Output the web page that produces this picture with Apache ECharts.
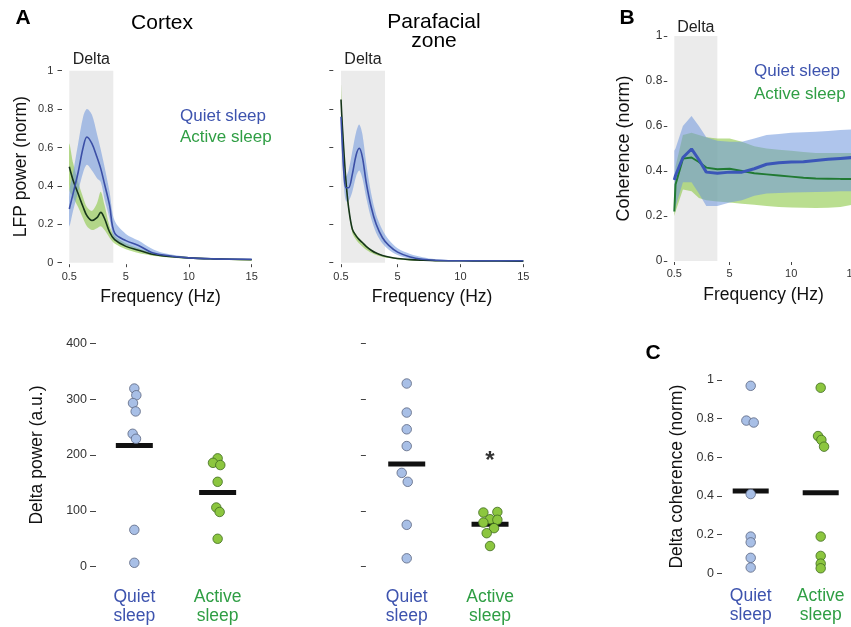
<!DOCTYPE html>
<html>
<head>
<meta charset="utf-8">
<script src="https://cdn.jsdelivr.net/npm/echarts@6/dist/echarts.min.js"></script>
<style>html,body{margin:0;padding:0;background:#fff}#chart{width:851px;height:627px}</style>
</head>
<body>
<div id="chart"></div>
<script>
var FONT = '"Liberation Sans", Arial, sans-serif';
var BLUE = '#3d53ae', GREEN = '#2f9e44';

var stateNames = ['Quiet sleep', 'Active sleep'];
var deltaBand = [0.5, 4];
var freqTicks = [0.5, 5, 10, 15];

// Cortex LFP spectra (mean and band edges)
var cortexFreq = [0.5, 0.8, 1.2, 1.6, 1.9, 2.3, 2.7, 3.0, 3.3, 3.7, 4.1, 5, 6, 7, 8, 10, 12, 15];
var cortexQuietMean = [0.28, 0.36, 0.47, 0.60, 0.655, 0.62, 0.55, 0.49, 0.41, 0.30, 0.155, 0.115, 0.09, 0.055, 0.04, 0.025, 0.02, 0.018];
var cortexQuietHi = [0.37, 0.47, 0.62, 0.76, 0.80, 0.77, 0.67, 0.59, 0.50, 0.37, 0.22, 0.15, 0.115, 0.075, 0.05, 0.03, 0.025, 0.02];
var cortexQuietLo = [0.19, 0.27, 0.37, 0.47, 0.51, 0.48, 0.44, 0.42, 0.33, 0.23, 0.12, 0.09, 0.07, 0.045, 0.033, 0.02, 0.016, 0.014];
var cortexActiveMean = [0.50, 0.43, 0.36, 0.29, 0.245, 0.22, 0.235, 0.262, 0.23, 0.16, 0.12, 0.085, 0.065, 0.045, 0.035, 0.025, 0.02, 0.015];
var cortexActiveHi = [0.62, 0.52, 0.42, 0.34, 0.29, 0.27, 0.31, 0.37, 0.30, 0.19, 0.14, 0.10, 0.075, 0.052, 0.04, 0.03, 0.022, 0.018];
var cortexActiveLo = [0.38, 0.34, 0.29, 0.23, 0.19, 0.17, 0.18, 0.19, 0.17, 0.13, 0.10, 0.07, 0.05, 0.038, 0.03, 0.02, 0.016, 0.012];

// Parafacial zone LFP spectra
var pfzFreq = [0.5, 0.6, 0.75, 0.9, 1.1, 1.4, 1.7, 1.95, 2.2, 2.5, 2.9, 3.3, 3.8, 4.3, 5, 6, 7, 8, 10, 12, 15];
var pfzQuietMean = [0.76, 0.62, 0.45, 0.39, 0.39, 0.46, 0.56, 0.596, 0.55, 0.42, 0.29, 0.20, 0.13, 0.09, 0.055, 0.03, 0.018, 0.013, 0.01, 0.01, 0.01];
var pfzQuietHi = [0.78, 0.66, 0.52, 0.45, 0.48, 0.58, 0.68, 0.72, 0.67, 0.52, 0.36, 0.25, 0.17, 0.12, 0.075, 0.045, 0.028, 0.018, 0.013, 0.012, 0.012];
var pfzQuietLo = [0.72, 0.55, 0.38, 0.32, 0.32, 0.37, 0.45, 0.48, 0.44, 0.34, 0.23, 0.155, 0.10, 0.068, 0.04, 0.02, 0.011, 0.008, 0.007, 0.007, 0.007];
var pfzActiveMean = [0.85, 0.72, 0.56, 0.42, 0.29, 0.175, 0.14, 0.12, 0.105, 0.085, 0.065, 0.05, 0.038, 0.03, 0.022, 0.016, 0.013, 0.011, 0.01, 0.009, 0.008];
var pfzActiveHi = [0.93, 0.76, 0.59, 0.44, 0.305, 0.185, 0.148, 0.127, 0.11, 0.09, 0.069, 0.053, 0.04, 0.032, 0.024, 0.018, 0.015, 0.013, 0.012, 0.011, 0.01];
var pfzActiveLo = [0.80, 0.68, 0.53, 0.40, 0.27, 0.155, 0.12, 0.10, 0.085, 0.068, 0.052, 0.04, 0.03, 0.024, 0.017, 0.012, 0.01, 0.008, 0.007, 0.006, 0.005];

// Cortex-PFZ coherence
var cohFreq = [0.5, 0.6, 1.2, 1.9, 2.5, 3.1, 4, 5, 6, 7, 8, 9, 10, 11, 12, 13, 14, 15];
var cohQuietMean = [0.36, 0.38, 0.46, 0.498, 0.45, 0.395, 0.39, 0.395, 0.395, 0.41, 0.43, 0.437, 0.44, 0.441, 0.447, 0.452, 0.456, 0.46];
var cohQuietHi = [0.49, 0.50, 0.60, 0.645, 0.60, 0.55, 0.535, 0.53, 0.53, 0.545, 0.56, 0.565, 0.57, 0.572, 0.575, 0.578, 0.582, 0.585];
var cohQuietLo = [0.22, 0.24, 0.35, 0.35, 0.30, 0.245, 0.245, 0.26, 0.27, 0.29, 0.30, 0.302, 0.305, 0.306, 0.307, 0.308, 0.31, 0.31];
var cohActiveMean = [0.22, 0.34, 0.455, 0.46, 0.44, 0.415, 0.408, 0.41, 0.40, 0.39, 0.385, 0.38, 0.375, 0.37, 0.367, 0.366, 0.365, 0.365];
var cohActiveHi = [0.30, 0.42, 0.56, 0.57, 0.56, 0.55, 0.545, 0.545, 0.53, 0.51, 0.50, 0.495, 0.49, 0.485, 0.48, 0.48, 0.48, 0.48];
var cohActiveLo = [0.20, 0.22, 0.318, 0.31, 0.28, 0.27, 0.265, 0.26, 0.255, 0.25, 0.245, 0.24, 0.238, 0.237, 0.236, 0.237, 0.24, 0.25];

// Per-animal delta values (jitter is the horizontal spread seen in the figure)
var cortexQuietPts = [319, 307, 293, 278, 238, 229, 66, 7];
var cortexQuietJit = [0, 0.024, -0.016, 0.016, -0.02, 0.02, 0, 0];
var cortexActivePts = [194, 186, 182, 152, 106, 98, 50];
var cortexActiveJit = [0, -0.056, 0.032, 0, -0.016, 0.024, 0];
var cortexMeans = [217, 133];

var pfzQuietPts = [328, 276, 246, 216, 168, 152, 75, 15];
var pfzQuietJit = [0, 0, 0, 0, -0.06, 0.012, 0, 0];
var pfzActivePts = [97, 98, 85, 79, 84, 69, 60, 37];
var pfzActiveJit = [-0.08, 0.088, 0, -0.08, 0.088, 0.048, -0.04, 0];
var pfzMeans = [184, 76];
var pfzStar = [1, 197];

var cohQuietPts = [0.97, 0.79, 0.78, 0.41, 0.19, 0.16, 0.08, 0.03];
var cohQuietJit = [0, -0.062, 0.043, 0, 0, 0, 0, 0];
var cohActivePts = [0.96, 0.71, 0.69, 0.655, 0.19, 0.09, 0.05, 0.026];
var cohActiveJit = [0, -0.038, 0.01, 0.048, 0, 0, 0, 0];
var cohMeans = [0.426, 0.417];

function pairs(xs, ys) { return xs.map(function (x, i) { return [x, ys[i]]; }); }

// SEM band drawn as one polygon: upper edge forward, lower edge back
function band(gi, xs, lo, hi, fill, smooth) {
  return {type: 'custom', xAxisIndex: gi, yAxisIndex: gi, silent: true, z: 2, clip: true,
    data: xs.map(function (x, i) { return [x, lo[i], hi[i]]; }),
    encode: {x: 0, y: [1, 2]},
    renderItem: function (params, api) {
      if (params.dataIndex !== 0) return null;
      var pts = [];
      for (var i = 0; i < xs.length; i++) pts.push(api.coord([xs[i], hi[i]]));
      for (var j = xs.length - 1; j >= 0; j--) pts.push(api.coord([xs[j], lo[j]]));
      return {type: 'polygon', shape: {points: pts, smooth: smooth}, style: {fill: fill}};
    }};
}

function meanLine(name, gi, xs, ys, color, width, smooth) {
  return {type: 'line', name: name, xAxisIndex: gi, yAxisIndex: gi, data: pairs(xs, ys),
    symbol: 'none', smooth: smooth, silent: true, lineStyle: {color: color, width: width}, z: 3};
}

function deltaShade(gi, dist) {
  return {type: 'line', xAxisIndex: gi, yAxisIndex: gi, data: [], silent: true, z: 1,
    markArea: {silent: true, itemStyle: {color: '#ebebeb'},
      label: {show: true, position: 'top', formatter: 'Delta', fontSize: 16, color: '#222', fontFamily: FONT, distance: dist},
      data: [[{xAxis: deltaBand[0], yAxis: 0}, {xAxis: deltaBand[1], yAxis: 1}]]}};
}

function dots(gi, cat, vals, jit, fill, border) {
  return {type: 'scatter', xAxisIndex: gi, yAxisIndex: gi, silent: true, z: 4,
    data: vals.map(function (v, i) { return [cat + jit[i], v]; }),
    symbolSize: 9.5, itemStyle: {color: fill, borderColor: border, borderWidth: 0.8, opacity: 1}};
}

function meanBars(gi, means, w) {
  return {type: 'scatter', xAxisIndex: gi, yAxisIndex: gi, silent: true, z: 3,
    data: means.map(function (m, i) { return [i, m]; }),
    symbol: 'rect', symbolSize: [w, 5], itemStyle: {color: '#111', opacity: 1}};
}

function freqAxis(gi, offset, margin) {
  return {type: 'value', gridIndex: gi, min: 0.5, max: 15, offset: offset,
    axisLine: {show: false, onZero: false}, splitLine: {show: false},
    axisTick: {show: true, customValues: freqTicks, length: 3, lineStyle: {color: '#444'}},
    axisLabel: {customValues: freqTicks, margin: margin, fontSize: 11, color: '#333', fontFamily: FONT},
    name: 'Frequency (Hz)', nameLocation: 'middle', nameGap: 24,
    nameTextStyle: {fontSize: 17.5, color: '#111', fontFamily: FONT}};
}

function catAxis(gi, min, max, margin) {
  return {type: 'value', gridIndex: gi, min: min, max: max,
    axisLine: {show: false, onZero: false}, axisTick: {show: false}, splitLine: {show: false},
    axisLabel: {customValues: [0, 1], margin: margin, lineHeight: 19,
      formatter: function (v) { return v === 0 ? '{q|Quiet}\n{q|sleep}' : '{a|Active}\n{a|sleep}'; },
      rich: {q: {color: BLUE, fontSize: 17.5, lineHeight: 19, fontFamily: FONT},
             a: {color: GREEN, fontSize: 17.5, lineHeight: 19, fontFamily: FONT}}}};
}

function valAxis(gi, max, step, offset, tickLen, margin, fontSize, showLabel, name, nameGap, nameSize) {
  return {type: 'value', gridIndex: gi, min: 0, max: max, interval: step, offset: offset,
    axisLine: {show: false, onZero: false}, splitLine: {show: false},
    axisTick: {show: true, length: tickLen, lineStyle: {color: '#444'}},
    axisLabel: {show: showLabel, margin: margin, fontSize: fontSize, color: '#333', fontFamily: FONT},
    name: name, nameLocation: 'middle', nameGap: nameGap,
    nameTextStyle: {fontSize: nameSize, color: '#111', fontFamily: FONT}};
}

function txt(s, x, y, font, color, align) {
  return {type: 'text', x: x, y: y, silent: true, z: 10,
    style: {text: s, font: font, fill: color || '#000', textAlign: align || 'center', align: align || 'center',
      textVerticalAlign: 'middle', verticalAlign: 'middle', lineHeight: 19}};
}

function gridAt(left, top, width, height) {
  return {left: left, top: top, width: width, height: height, outerBoundsMode: 'none', containLabel: false};
}

var blueFill = 'rgba(110,150,220,0.55)';
var greenFill = 'rgba(140,200,70,0.6)';

var series = [].concat(
  deltaShade(0, 3),
  band(0, cortexFreq, cortexActiveLo, cortexActiveHi, greenFill, 0.3),
  band(0, cortexFreq, cortexQuietLo, cortexQuietHi, blueFill, 0.3),
  meanLine(stateNames[1], 0, cortexFreq, cortexActiveMean, '#16351a', 1.6, 0.35),
  meanLine(stateNames[0], 0, cortexFreq, cortexQuietMean, '#3b4fa6', 1.6, 0.35),

  deltaShade(1, 3),
  band(1, pfzFreq, pfzActiveLo, pfzActiveHi, greenFill, 0.3),
  band(1, pfzFreq, pfzQuietLo, pfzQuietHi, blueFill, 0.3),
  meanLine(stateNames[1], 1, pfzFreq, pfzActiveMean, '#16351a', 1.6, 0.35),
  meanLine(stateNames[0], 1, pfzFreq, pfzQuietMean, '#3b4fa6', 1.6, 0.35),

  deltaShade(2, 0),
  band(2, cohFreq, cohActiveLo, cohActiveHi, greenFill, 0),
  band(2, cohFreq, cohQuietLo, cohQuietHi, blueFill, 0),
  meanLine(stateNames[1], 2, cohFreq, cohActiveMean, '#217a33', 2, false),
  meanLine(stateNames[0], 2, cohFreq, cohQuietMean, '#3b56b8', 3, false),

  meanBars(3, cortexMeans, 37),
  dots(3, 0, cortexQuietPts, cortexQuietJit, '#a8bfe6', '#5c6680'),
  dots(3, 1, cortexActivePts, cortexActiveJit, '#8cc63f', '#3f6b20'),

  meanBars(4, pfzMeans, 37),
  dots(4, 0, pfzQuietPts, pfzQuietJit, '#a8bfe6', '#5c6680'),
  dots(4, 1, pfzActivePts, pfzActiveJit, '#8cc63f', '#3f6b20'),
  {type: 'scatter', xAxisIndex: 4, yAxisIndex: 4, silent: true, data: [pfzStar], symbolSize: 1,
    itemStyle: {color: 'rgba(0,0,0,0)'},
    label: {show: true, position: 'inside', formatter: '*', fontSize: 24, fontWeight: 'bold', color: '#000', fontFamily: FONT, offset: [0, 5]}},

  meanBars(5, cohMeans, 36),
  dots(5, 0, cohQuietPts, cohQuietJit, '#a8bfe6', '#5c6680'),
  dots(5, 1, cohActivePts, cohActiveJit, '#8cc63f', '#3f6b20')
);

var chart = echarts.init(document.getElementById('chart'), null, {renderer: 'canvas', width: 851, height: 627});

chart.setOption({
  animation: false,
  backgroundColor: '#fff',
  textStyle: {fontFamily: FONT},
  grid: [
    gridAt(69.3, 70.7, 182.4, 192),
    gridAt(341, 70.7, 182.3, 192),
    gridAt(674.3, 36, 178.4, 225),
    gridAt(96, 343.3, 158.3, 223.4),
    gridAt(368.4, 343.3, 158.3, 223.4),
    gridAt(722, 380, 130.2, 193.3)
  ],
  xAxis: [
    freqAxis(0, 1.5, 7),
    freqAxis(1, 1.5, 7),
    freqAxis(2, 1, 6),
    catAxis(3, -0.46, 1.44, 21),
    catAxis(4, -0.46, 1.44, 21),
    catAxis(5, -0.41, 1.45, 13)
  ],
  yAxis: [
    valAxis(0, 1, 0.2, 7.3, 4.5, 8.7, 11, true, 'LFP power (norm)', 32, 17.5),
    valAxis(1, 1, 0.2, 7.7, 4, 8, 11, false, '', 0, 12),
    valAxis(2, 1, 0.2, 7, 3.5, 5, 12, true, 'Coherence (norm)', 34, 18),
    valAxis(3, 400, 100, 0, 6, 9, 12.5, true, 'Delta power (a.u.)', 50, 17.5),
    valAxis(4, 400, 100, 2.5, 5, 8, 12, false, '', 0, 12),
    valAxis(5, 1, 0.2, 0, 5, 8, 12.5, true, 'Delta coherence (norm)', 36, 17.5)
  ],
  graphic: [
    txt('A', 23, 18, 'bold 21px ' + FONT),
    txt('B', 627, 18, 'bold 21px ' + FONT),
    txt('C', 653, 353, 'bold 21px ' + FONT),
    txt('Cortex', 162, 23, '21px ' + FONT),
    txt('Parafacial\nzone', 434, 32, '21px ' + FONT),
    txt(stateNames[0], 180, 116, '17px ' + FONT, BLUE, 'left'),
    txt(stateNames[1], 180, 137, '17px ' + FONT, GREEN, 'left'),
    txt(stateNames[0], 754, 71, '17px ' + FONT, BLUE, 'left'),
    txt(stateNames[1], 754, 94, '17px ' + FONT, GREEN, 'left')
  ],
  series: series
});
</script>
</body>
</html>
